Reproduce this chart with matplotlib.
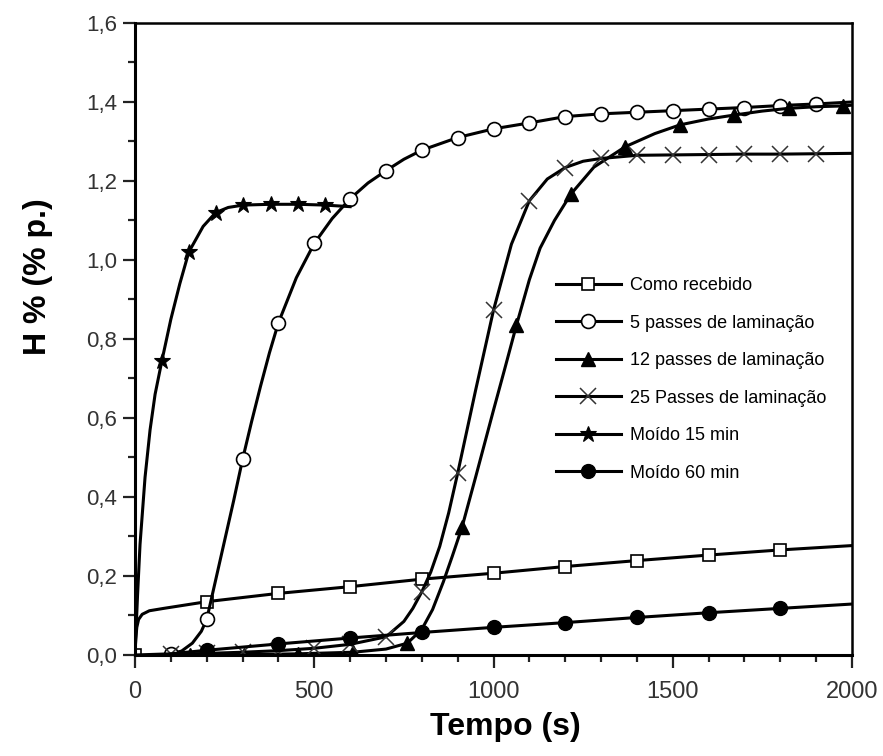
import numpy as np
import matplotlib
matplotlib.use('Agg')
import matplotlib.pyplot as plt
from matplotlib.ticker import MultipleLocator

plt.rcParams['font.family'] = ['Liberation Sans', 'DejaVu Sans']

# hydrogen uptake curves: time (s) vs H (wt.%), plus times carrying a symbol
t_rec = [0, 2, 5, 10, 20, 40, 80, 200, 400, 600, 800, 1000, 1200, 1400, 1600, 1800, 2000]
h_rec = [0, 0.04, 0.07, 0.09, 0.103, 0.112, 0.118, 0.135, 0.156, 0.173, 0.192,
         0.207, 0.224, 0.239, 0.253, 0.266, 0.277]
m_rec = [0, 200, 400, 600, 800, 1000, 1200, 1400, 1600, 1800]

t_p5 = [90, 100, 130, 160, 185, 200, 225, 250, 275, 300, 325, 350, 375, 400, 450, 500,
        550, 600, 650, 700, 750, 800, 900, 1000, 1100, 1200, 1300, 1400, 1500, 1600,
        1700, 1800, 1900, 2000]
h_p5 = [0, 0.003, 0.01, 0.03, 0.06, 0.09, 0.19, 0.29, 0.39, 0.495, 0.59, 0.68, 0.765,
        0.841, 0.955, 1.042, 1.105, 1.155, 1.195, 1.226, 1.255, 1.278, 1.31, 1.332,
        1.347, 1.363, 1.37, 1.374, 1.378, 1.382, 1.386, 1.391, 1.395, 1.40]
m_p5 = [100, 200, 300, 400, 500, 600, 700, 800, 900, 1000, 1100, 1200, 1300, 1400,
        1500, 1600, 1700, 1800, 1900]

t_p12 = [100, 152, 304, 456, 608, 700, 760, 800, 830, 860, 885, 912, 950, 1000, 1030,
         1064, 1100, 1130, 1170, 1216, 1280, 1368, 1450, 1520, 1600, 1672, 1750, 1824,
         1900, 1976, 2000]
h_p12 = [0, 0, 0.001, 0.003, 0.007, 0.015, 0.03, 0.065, 0.115, 0.185, 0.25, 0.323, 0.45,
         0.62, 0.72, 0.835, 0.95, 1.03, 1.10, 1.167, 1.235, 1.287, 1.32, 1.342, 1.357,
         1.367, 1.377, 1.384, 1.388, 1.39, 1.392]
m_p12 = [152, 304, 456, 608, 760, 912, 1064, 1216, 1368, 1520, 1672, 1824, 1976]

t_p25 = [100, 200, 300, 400, 500, 600, 700, 750, 775, 800, 825, 850, 875, 900, 950,
         1000, 1050, 1100, 1150, 1200, 1250, 1300, 1400, 1500, 1600, 1700, 1800, 1900,
         2000]
h_p25 = [0.002, 0.004, 0.007, 0.011, 0.017, 0.027, 0.046, 0.085, 0.118, 0.16, 0.21,
         0.275, 0.36, 0.46, 0.67, 0.873, 1.04, 1.15, 1.205, 1.234, 1.25, 1.257, 1.265,
         1.266, 1.267, 1.268, 1.268, 1.269, 1.27]
m_p25 = [100, 200, 300, 400, 500, 600, 700, 800, 900, 1000, 1100, 1200, 1300, 1400,
         1500, 1600, 1700, 1800, 1900]

t_m15 = [0, 7, 14, 28, 42, 56, 75, 100, 125, 150, 190, 225, 260, 302, 378, 455, 530, 600]
h_m15 = [0, 0.15, 0.28, 0.45, 0.57, 0.66, 0.745, 0.85, 0.94, 1.02, 1.085, 1.12, 1.133,
         1.139, 1.141, 1.141, 1.139, 1.135]
m_m15 = [75, 150, 225, 302, 378, 455, 530]

t_m60 = [0, 100, 200, 400, 600, 800, 1000, 1200, 1400, 1600, 1800, 2000]
h_m60 = [0, 0.003, 0.012, 0.028, 0.043, 0.057, 0.07, 0.082, 0.095, 0.107, 0.118, 0.129]
m_m60 = [200, 400, 600, 800, 1000, 1200, 1400, 1600, 1800]

labels = ['Como recebido', '5 passes de laminação', '12 passes de laminação',
          '25 Passes de laminação', 'Moído 15 min', 'Moído 60 min']

y_ticks = [0, 0.2, 0.4, 0.6, 0.8, 1.0, 1.2, 1.4, 1.6]
y_ticklabels = ['0,0', '0,2', '0,4', '0,6', '0,8', '1,0', '1,2', '1,4', '1,6']
x_ticks = [0, 500, 1000, 1500, 2000]

series = [
    (t_rec, h_rec, m_rec, dict(marker='s', ms=9, mfc='white', mew=1.2)),
    (t_p5, h_p5, m_p5, dict(marker='o', ms=10, mfc='white', mew=1.2)),
    (t_p12, h_p12, m_p12, dict(marker='^', ms=10, mfc='k', mew=1)),
    (t_p25, h_p25, m_p25, dict(marker='x', ms=11, mew=1.1, mec='#333333')),
    (t_m15, h_m15, m_m15, dict(marker='*', ms=12, mfc='k', mew=0.8)),
    (t_m60, h_m60, m_m60, dict(marker='o', ms=10, mfc='k', mew=1)),
]

fig = plt.figure(figsize=(8.83, 7.56), dpi=100)
ax = fig.add_axes([0.1529, 0.1336, 0.812, 0.836])

for (t, h, marks, style), lab in zip(series, labels):
    t = np.asarray(t, dtype=float)
    every = np.isin(t, marks)
    style.setdefault('mec', 'k')
    ax.plot(t, h, color='k', lw=2.2, markevery=every, label=lab, **style)

ax.set_xlim(0, 2000)
ax.set_ylim(0, 1.6)
ax.set_xticks(x_ticks)
ax.set_yticks(y_ticks)
ax.set_yticklabels(y_ticklabels)
ax.xaxis.set_minor_locator(MultipleLocator(100))
ax.yaxis.set_minor_locator(MultipleLocator(0.1))

ax.tick_params(which='major', direction='out', length=9, width=1.6, color='#222222')
ax.tick_params(which='minor', direction='out', length=5, width=1.6, color='#222222')
ax.tick_params(axis='x', labelsize=17, pad=10, labelcolor='#333333')
ax.tick_params(axis='y', labelsize=16, pad=4, labelcolor='#333333')

for side in ['left', 'bottom']:
    ax.spines[side].set_linewidth(2.2)
for side in ['top', 'right']:
    ax.spines[side].set_linewidth(1.8)

ax.set_xlabel('Tempo (s)', fontsize=23, fontweight='bold')
ax.set_ylabel('H % (% p.)', fontsize=23, fontweight='bold')
ax.xaxis.set_label_coords(0.516, -0.09)
ax.yaxis.set_label_coords(-0.114, 0.598)

ax.legend(loc='upper left', bbox_to_anchor=(0.587, 0.598), frameon=False, fontsize=13,
          handlelength=3.6, handletextpad=0.5, labelspacing=1.135, borderpad=0,
          borderaxespad=0, numpoints=1)

fig.savefig('out.png', dpi=100)
